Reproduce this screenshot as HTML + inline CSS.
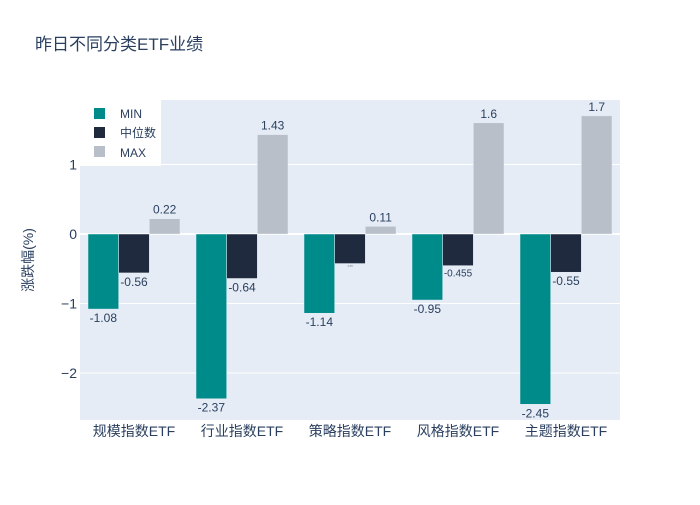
<!DOCTYPE html>
<html><head><meta charset="utf-8"><style>
body{margin:0;background:#fff;font-family:"Liberation Sans","Noto Sans CJK SC",sans-serif}
svg text{font-family:"Liberation Sans","Noto Sans CJK SC",sans-serif}
</style></head><body>
<svg id="c" width="700" height="500">
<rect x="0" y="0" width="700" height="500" fill="#fff"/>
<text x="35" y="50" font-size="17" fill="#2a3f5f">昨日不同分类ETF业绩</text>
<rect x="80" y="100" width="540" height="320" fill="#e5ecf6"/>
<g id="grid"></g><g id="bars"></g><g id="labels"></g>
<text transform="translate(33,260) rotate(-90)" text-anchor="middle" font-size="14" fill="#2a3f5f">涨跌幅(%)</text>
<g>
<rect x="80" y="100" width="81" height="66" fill="#fff"/>
<rect x="94" y="108" width="11" height="11" fill="#008b8b"/>
<text x="120" y="118" font-size="12" fill="#2a3f5f">MIN</text>
<rect x="94" y="127" width="11" height="11" fill="#1f2a3e"/>
<text x="120" y="137" font-size="12" fill="#2a3f5f">中位数</text>
<rect x="94" y="146" width="11" height="11" fill="#b8bfc8"/>
<text x="120" y="157" font-size="12" fill="#2a3f5f">MAX</text>
</g>
</svg>
<script>
const categories=["规模指数ETF","行业指数ETF","策略指数ETF","风格指数ETF","主题指数ETF"];
const minVals=[-1.08,-2.37,-1.14,-0.95,-2.45];
const medVals=[-0.56,-0.64,-0.425,-0.455,-0.55];
const maxVals=[0.22,1.43,0.11,1.6,1.7];
const yTicks=[-2,-1,0,1];
const NS="http://www.w3.org/2000/svg";
const X0=80,W=540,yTop=100,yBot=420,vTop=1.928,vBot=-2.676;
const y=v=>yTop+(vTop-v)/(vTop-vBot)*(yBot-yTop);
const band=W/categories.length;
function mk(t,a,p){const e=document.createElementNS(NS,t);for(const k in a)e.setAttribute(k,a[k]);p.appendChild(e);return e;}
const grid=document.getElementById('grid'),bars=document.getElementById('bars'),labels=document.getElementById('labels');
yTicks.forEach(t=>{
 const l=mk('line',{x1:X0,x2:X0+W,y1:y(t),y2:y(t),stroke:'#fff','stroke-width':t===0?2:1},grid);
 
 
 const tx=mk('text',{x:X0-3,y:y(t)+5,'text-anchor':'end','font-size':14,fill:'#2a3f5f'},grid);
 tx.textContent=t<0?'\u2212'+Math.abs(t):String(t);
 
 
});
const series=[[minVals,'#008b8b','min'],[medVals,'#1f2a3e','median'],[maxVals,'#b8bfc8','max']];
const bw=(band-16)/3;
categories.forEach((c,i)=>{
 const bx=X0+i*band+8;
 series.forEach(([vals,col,nm],s)=>{
  const v=vals[i],x=bx+s*bw,y0=y(0),y1=y(v);
  const r=mk('rect',{x:x,y:Math.min(y0,y1),width:bw,height:Math.abs(y1-y0),fill:col,stroke:'#e5ecf6','stroke-width':0.5},bars);
  
  
  let fs=12;
  if(nm==='median'&&i===2)fs=2;else if(nm==='median'&&i===3)fs=10;
  const ty=v>=0?y1-5:y1+fs+1;
  const t=mk('text',{x:x+bw/2,y:ty,'text-anchor':'middle','font-size':fs,fill:'#2a3f5f'},labels);
  t.textContent=String(v);
  
  
 });
 const ct=mk('text',{x:X0+(i+0.5)*band,y:436,'text-anchor':'middle','font-size':14,fill:'#2a3f5f'},labels);
 ct.textContent=c;
 
 
});
</script>
</body></html>
